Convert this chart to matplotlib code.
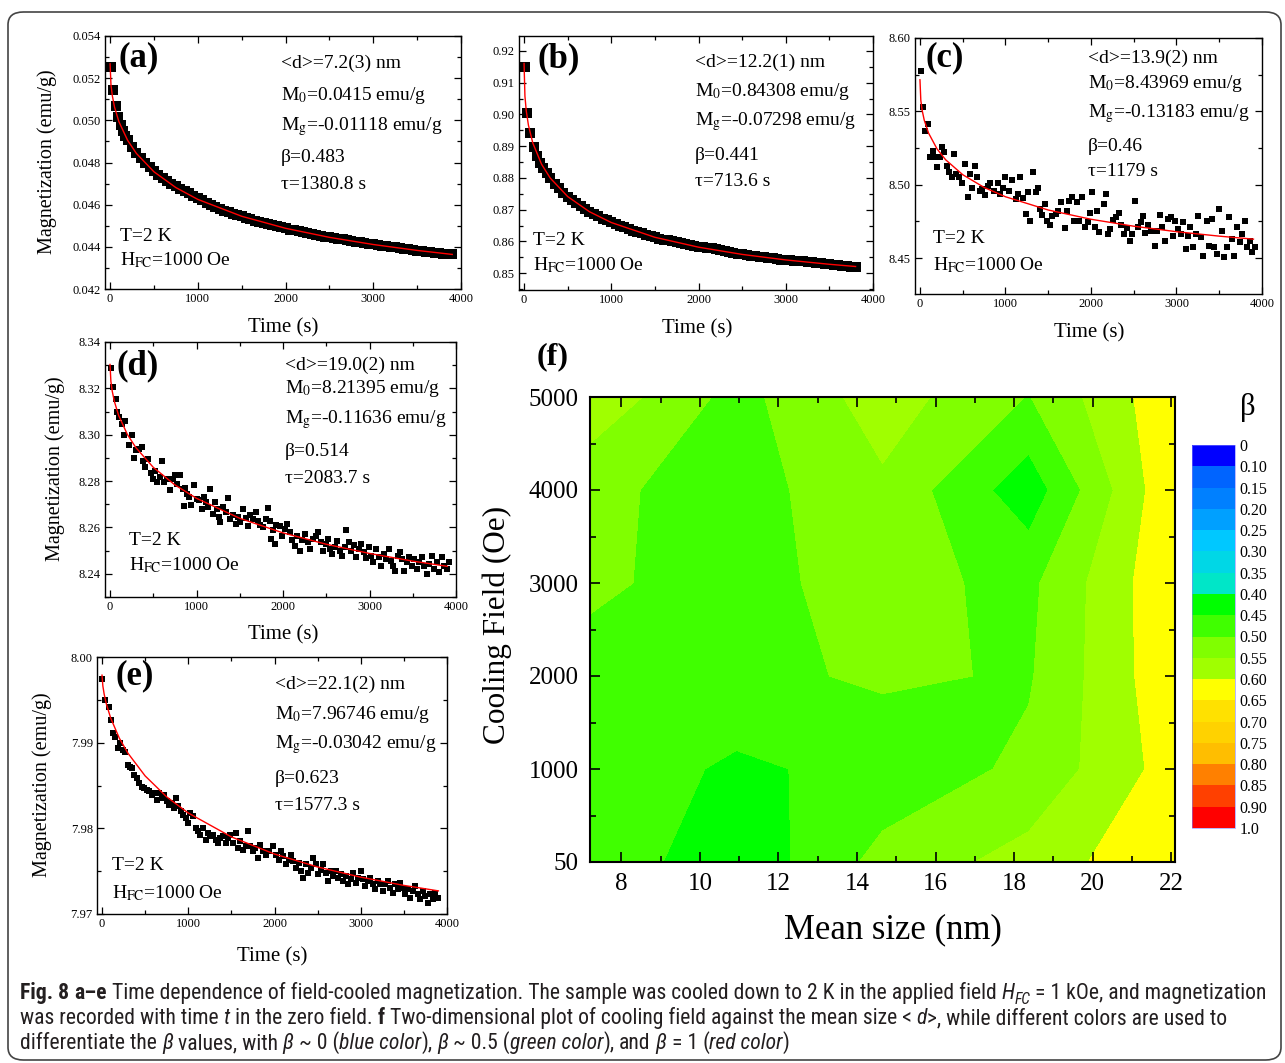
import numpy as np
import matplotlib
matplotlib.use("Agg")
from matplotlib import pyplot as plt
from matplotlib.colors import ListedColormap, BoundaryNorm
from matplotlib.patches import FancyBboxPatch
from matplotlib.ticker import MultipleLocator, FormatStrFormatter, FixedLocator

W, H = 1285, 1063

# ---------------- data ----------------
# fitted curves (time in s)
fit_time = [0, 10, 25, 50, 100, 200, 300, 500, 750, 1000, 1500, 2000, 2500, 3000, 3500, 3900]
fit_time_b = [0, 10, 25, 50, 100, 200, 300, 500, 750, 1000, 1500, 2000, 2500, 3000, 3500, 3800]
a_fit = [0.05268, 0.05169, 0.05118, 0.05064, 0.04994, 0.04905, 0.04843, 0.04756, 0.04681, 0.04625,
         0.04545, 0.04488, 0.04445, 0.04411, 0.04383, 0.04364]
b_fit = [0.91606, 0.90575, 0.90117, 0.89662, 0.89101, 0.88433, 0.87996, 0.87413, 0.86935, 0.86595,
         0.86130, 0.85819, 0.85591, 0.85417, 0.85280, 0.85210]
c_fit = [8.57152, 8.55761, 8.55092, 8.54405, 8.53529, 8.52442, 8.51706, 8.50688, 8.49821, 8.49185,
         8.48282, 8.47652, 8.47178, 8.46805, 8.46501, 8.46297]
d_fit = [8.33031, 8.32306, 8.31892, 8.31440, 8.30827, 8.30017, 8.29438, 8.28594, 8.27836, 8.27256,
         8.26395, 8.25766, 8.25276, 8.24879, 8.24548, 8.24323]
e_fit = [7.99788, 7.99661, 7.99567, 7.99453, 7.99289, 7.99054, 7.98878, 7.98612, 7.98367, 7.98179,
         7.97900, 7.97700, 7.97549, 7.97430, 7.97334, 7.97270]

# measured points (time, magnetization)
a_points = [(11, 0.05253), (38, 0.05143), (65, 0.05067), (95, 0.05016), (122, 0.04977), (150, 0.04950),
            (175, 0.04925), (200, 0.04905), (250, 0.04872), (300, 0.04845), (350, 0.04820), (400, 0.04800),
            (450, 0.04777), (500, 0.04760), (550, 0.04743), (600, 0.04728), (650, 0.04713), (700, 0.04700),
            (750, 0.04687), (800, 0.04675), (850, 0.04665), (900, 0.04655), (950, 0.04643), (1000, 0.04632),
            (1050, 0.04621), (1100, 0.04610), (1150, 0.04600), (1200, 0.04590), (1250, 0.04581),
            (1300, 0.04572), (1350, 0.04565), (1400, 0.04558), (1450, 0.04551), (1500, 0.04545),
            (1550, 0.04537), (1600, 0.04530), (1650, 0.04524), (1700, 0.04518), (1750, 0.04513),
            (1800, 0.04508), (1850, 0.04502), (1900, 0.04497), (1950, 0.04492), (2000, 0.04487),
            (2050, 0.04482), (2100, 0.04478), (2150, 0.04474), (2200, 0.04470), (2250, 0.04465),
            (2300, 0.04460), (2350, 0.04456), (2400, 0.04452), (2450, 0.04448), (2500, 0.04445),
            (2550, 0.04441), (2600, 0.04438), (2650, 0.04435), (2700, 0.04432), (2750, 0.04428),
            (2800, 0.04425), (2850, 0.04421), (2900, 0.04418), (2950, 0.04415), (3000, 0.04412),
            (3050, 0.04408), (3100, 0.04405), (3150, 0.04402), (3200, 0.04400), (3250, 0.04397),
            (3300, 0.04394), (3350, 0.04391), (3400, 0.04388), (3450, 0.04385), (3500, 0.04382),
            (3550, 0.04379), (3600, 0.04377), (3650, 0.04374), (3700, 0.04372), (3750, 0.04370),
            (3800, 0.04368), (3850, 0.04366), (3900, 0.04365)]
b_points = [(8, 0.9150), (39, 0.9003), (73, 0.8940), (111, 0.8898), (149, 0.8869), (180, 0.8846),
            (220, 0.8830), (260, 0.8815), (300, 0.8800), (350, 0.8782), (400, 0.8767), (450, 0.8753),
            (500, 0.8741), (550, 0.8730), (600, 0.8720), (650, 0.8711), (700, 0.8702), (750, 0.8694),
            (800, 0.8686), (850, 0.8679), (900, 0.8672), (950, 0.8666), (1000, 0.8660), (1050, 0.8654),
            (1100, 0.8649), (1150, 0.8644), (1200, 0.8639), (1250, 0.8634), (1300, 0.8630), (1350, 0.8625),
            (1400, 0.8621), (1450, 0.8617), (1500, 0.8613), (1550, 0.8609), (1600, 0.8606), (1650, 0.8603),
            (1700, 0.8600), (1750, 0.8597), (1800, 0.8594), (1850, 0.8591), (1900, 0.8588), (1950, 0.8586),
            (2000, 0.8583), (2050, 0.8582), (2100, 0.8580), (2150, 0.8578), (2200, 0.8576), (2250, 0.8573),
            (2300, 0.8570), (2350, 0.8567), (2400, 0.8564), (2450, 0.8561), (2500, 0.8559), (2550, 0.8557),
            (2600, 0.8555), (2650, 0.8553), (2700, 0.8552), (2750, 0.8550), (2800, 0.8549), (2850, 0.8547),
            (2900, 0.8545), (2950, 0.8543), (3000, 0.8542), (3050, 0.8540), (3100, 0.8539), (3150, 0.8538),
            (3200, 0.8537), (3250, 0.8535), (3300, 0.8534), (3350, 0.8532), (3400, 0.8531), (3450, 0.8529),
            (3500, 0.8528), (3550, 0.8527), (3600, 0.8526), (3650, 0.8524), (3700, 0.8523), (3750, 0.8521),
            (3800, 0.8520)]
c_points = [(8, 8.5772), (39, 8.5527), (59, 8.5368), (98, 8.5413), (118, 8.5190), (149, 8.5230), (176, 8.5190),
            (204, 8.5120), (235, 8.5190), (255, 8.5260), (282, 8.5220), (314, 8.5128), (341, 8.5087),
            (373, 8.5050), (400, 8.5210), (424, 8.5075), (459, 8.5050), (490, 8.5010), (529, 8.5144),
            (557, 8.4915), (588, 8.5075), (608, 8.4980), (647, 8.5126), (667, 8.5050), (698, 8.4960),
            (725, 8.4970), (765, 8.4930), (792, 8.4995), (824, 8.5010), (863, 8.4960), (910, 8.5010),
            (933, 8.4940), (973, 8.4980), (1000, 8.5050), (1039, 8.4960), (1078, 8.5030), (1118, 8.4900),
            (1145, 8.4940), (1169, 8.5050), (1200, 8.4911), (1235, 8.4800), (1267, 8.4950), (1286, 8.4750),
            (1325, 8.5087), (1353, 8.4950), (1380, 8.4980), (1404, 8.4836), (1431, 8.4797), (1459, 8.4870),
            (1490, 8.4756), (1522, 8.4724), (1549, 8.4790), (1588, 8.4800), (1616, 8.4824), (1647, 8.4880),
            (1698, 8.4705), (1725, 8.4824), (1745, 8.4890), (1773, 8.4918), (1804, 8.4756), (1835, 8.4880),
            (1863, 8.4756), (1894, 8.4915), (1929, 8.4710), (1961, 8.4744), (1992, 8.4806), (2012, 8.4950),
            (2047, 8.4710), (2071, 8.4824), (2098, 8.4676), (2149, 8.4870), (2176, 8.4938), (2196, 8.4664),
            (2227, 8.4699), (2255, 8.4760), (2294, 8.4778), (2322, 8.4810), (2353, 8.4728), (2384, 8.4664),
            (2416, 8.4705), (2451, 8.4619), (2478, 8.4664), (2518, 8.4890), (2549, 8.4710), (2580, 8.4744),
            (2608, 8.4790), (2635, 8.4670), (2667, 8.4728), (2706, 8.4687), (2745, 8.4584), (2776, 8.4687),
            (2808, 8.4797), (2831, 8.4710), (2863, 8.4619), (2902, 8.4767), (2933, 8.4778), (2961, 8.4653),
            (2988, 8.4756), (3020, 8.4699), (3051, 8.4664), (3078, 8.4744), (3106, 8.4562), (3129, 8.4653),
            (3161, 8.4710), (3196, 8.4573), (3224, 8.4664), (3255, 8.4790), (3286, 8.4642), (3314, 8.4516),
            (3353, 8.4756), (3380, 8.4584), (3412, 8.4767), (3443, 8.4573), (3471, 8.4527), (3498, 8.4836),
            (3529, 8.4687), (3561, 8.4509), (3588, 8.4573), (3616, 8.4778), (3647, 8.4630), (3678, 8.4516),
            (3706, 8.4710), (3737, 8.4607), (3765, 8.4664), (3796, 8.4756), (3824, 8.4573), (3855, 8.4619),
            (3882, 8.4539), (3914, 8.4578)]
d_points = [(8, 8.3290), (38, 8.3207), (65, 8.3156), (85, 8.3099), (108, 8.3077), (135, 8.3048), (162, 8.2998),
            (173, 8.3058), (223, 8.2957), (250, 8.2998), (277, 8.2900), (300, 8.2933), (338, 8.2940),
            (365, 8.2947), (377, 8.2885), (404, 8.2861), (442, 8.2894), (469, 8.2836), (500, 8.2810),
            (519, 8.2842), (546, 8.2796), (577, 8.2818), (600, 8.2885), (627, 8.2796), (654, 8.2810),
            (692, 8.2760), (723, 8.2810), (750, 8.2825), (777, 8.2789), (808, 8.2825), (838, 8.2767),
            (854, 8.2692), (865, 8.2770), (892, 8.2745), (915, 8.2731), (942, 8.2695), (969, 8.2781),
            (1000, 8.2724), (1023, 8.2717), (1058, 8.2681), (1085, 8.2731), (1108, 8.2709), (1138, 8.2688),
            (1154, 8.2767), (1185, 8.2659), (1212, 8.2709), (1238, 8.2681), (1262, 8.2645), (1277, 8.2623),
            (1308, 8.2688), (1338, 8.2666), (1365, 8.2727), (1392, 8.2637), (1423, 8.2652), (1454, 8.2616),
            (1481, 8.2645), (1508, 8.2623), (1538, 8.2681), (1569, 8.2640), (1596, 8.2608), (1623, 8.2652),
            (1654, 8.2637), (1685, 8.2666), (1712, 8.2626), (1738, 8.2611), (1769, 8.2601), (1800, 8.2637),
            (1827, 8.2683), (1846, 8.2630), (1865, 8.2551), (1885, 8.2587), (1904, 8.2529), (1923, 8.2609),
            (1962, 8.2606), (1992, 8.2565), (2019, 8.2594), (2046, 8.2616), (2077, 8.2580), (2108, 8.2548),
            (2135, 8.2522), (2162, 8.2565), (2192, 8.2500), (2223, 8.2548), (2250, 8.2572), (2288, 8.2536),
            (2315, 8.2508), (2346, 8.2551), (2377, 8.2565), (2408, 8.2580), (2435, 8.2536), (2461, 8.2500),
            (2492, 8.2529), (2519, 8.2551), (2546, 8.2508), (2569, 8.2486), (2596, 8.2515), (2623, 8.2540),
            (2654, 8.2500), (2685, 8.2479), (2711, 8.2515), (2731, 8.2587), (2762, 8.2536), (2788, 8.2500),
            (2815, 8.2525), (2846, 8.2471), (2877, 8.2508), (2904, 8.2529), (2931, 8.2493), (2962, 8.2467),
            (2992, 8.2515), (3019, 8.2479), (3046, 8.2450), (3077, 8.2508), (3108, 8.2471), (3135, 8.2435),
            (3162, 8.2486), (3192, 8.2464), (3223, 8.2508), (3250, 8.2457), (3277, 8.2435), (3300, 8.2414),
            (3327, 8.2479), (3354, 8.2496), (3377, 8.2464), (3404, 8.2414), (3431, 8.2450), (3462, 8.2471),
            (3492, 8.2435), (3519, 8.2464), (3546, 8.2421), (3577, 8.2450), (3608, 8.2471), (3635, 8.2435),
            (3662, 8.2399), (3692, 8.2443), (3723, 8.2479), (3750, 8.2421), (3777, 8.2450), (3808, 8.2407),
            (3838, 8.2471), (3865, 8.2435), (3896, 8.2421), (3923, 8.2453)]
e_points = [(5, 7.99748), (38, 7.99496), (77, 7.99419), (104, 7.99264), (127, 7.99108), (154, 7.99070),
            (181, 7.98934), (204, 7.98992), (243, 7.98915), (269, 7.98895), (296, 7.98740), (319, 7.98721),
            (346, 7.98701), (373, 7.98624), (404, 7.98586), (434, 7.98528), (461, 7.98488), (488, 7.98470),
            (519, 7.98450), (550, 7.98430), (576, 7.98392), (603, 7.98410), (634, 7.98333), (665, 7.98410),
            (692, 7.98351), (719, 7.98392), (749, 7.98314), (780, 7.98275), (807, 7.98294), (834, 7.98236),
            (857, 7.98351), (884, 7.98256), (911, 7.98205), (942, 7.98159), (972, 7.98120), (999, 7.98062),
            (1026, 7.98178), (1057, 7.98140), (1087, 7.98004), (1114, 7.97965), (1141, 7.97926), (1172, 7.98004),
            (1203, 7.97869), (1230, 7.97946), (1257, 7.97907), (1287, 7.97926), (1318, 7.97869), (1345, 7.97830),
            (1372, 7.97888), (1403, 7.97907), (1433, 7.97830), (1460, 7.97888), (1487, 7.97926), (1518, 7.97830),
            (1549, 7.97946), (1575, 7.97771), (1602, 7.97849), (1633, 7.97752), (1664, 7.97791), (1691, 7.97965),
            (1718, 7.97791), (1748, 7.97733), (1779, 7.97771), (1806, 7.97655), (1833, 7.97810), (1864, 7.97733),
            (1902, 7.97694), (1940, 7.97733), (1979, 7.97791), (2017, 7.97694), (2048, 7.97636), (2075, 7.97733),
            (2102, 7.97675), (2133, 7.97578), (2163, 7.97636), (2190, 7.97694), (2217, 7.97616), (2248, 7.97538),
            (2279, 7.97597), (2306, 7.97500), (2333, 7.97422), (2363, 7.97578), (2394, 7.97481), (2421, 7.97538),
            (2448, 7.97655), (2479, 7.97578), (2509, 7.97462), (2536, 7.97519), (2563, 7.97578), (2594, 7.97481),
            (2625, 7.97384), (2652, 7.97500), (2679, 7.97442), (2709, 7.97500), (2740, 7.97422), (2767, 7.97462),
            (2794, 7.97384), (2825, 7.97442), (2855, 7.97345), (2882, 7.97403), (2909, 7.97481), (2940, 7.97364),
            (2971, 7.97422), (2998, 7.97500), (3025, 7.97403), (3055, 7.97326), (3086, 7.97384), (3113, 7.97422),
            (3140, 7.97345), (3171, 7.97287), (3201, 7.97384), (3228, 7.97345), (3255, 7.97267), (3286, 7.97345),
            (3317, 7.97384), (3344, 7.97306), (3370, 7.97248), (3401, 7.97345), (3432, 7.97287), (3459, 7.97364),
            (3486, 7.97306), (3517, 7.97229), (3547, 7.97287), (3574, 7.97190), (3601, 7.97267), (3632, 7.97326),
            (3663, 7.97229), (3690, 7.97171), (3716, 7.97267), (3747, 7.97209), (3778, 7.97132), (3805, 7.97229),
            (3832, 7.97171), (3863, 7.97248), (3893, 7.97190)]

a_notes = ["<d>=7.2(3) nm", "M$_0$=0.0415 emu/g", "M$_{\\rm g}$=-0.01118 emu/g", "β=0.483", "τ=1380.8 s"]
b_notes = ["<d>=12.2(1) nm", "M$_0$=0.84308 emu/g", "M$_{\\rm g}$=-0.07298 emu/g", "β=0.441", "τ=713.6 s"]
c_notes = ["<d>=13.9(2) nm", "M$_0$=8.43969 emu/g", "M$_{\\rm g}$=-0.13183 emu/g", "β=0.46", "τ=1179 s"]
d_notes = ["<d>=19.0(2) nm", "M$_0$=8.21395 emu/g", "M$_{\\rm g}$=-0.11636 emu/g", "β=0.514", "τ=2083.7 s"]
e_notes = ["<d>=22.1(2) nm", "M$_0$=7.96746 emu/g", "M$_{\\rm g}$=-0.03042 emu/g", "β=0.623", "τ=1577.3 s"]

# contour map (f): beta on a size x cooling-field grid
mean_size = [7.2, 10.925, 14.65, 18.375, 22.1]
cooling_field = [50, 1000, 2000, 3000, 4000, 5000]
beta_map = [
    [0.490, 0.410, 0.517, 0.569, 0.645],   # 50 Oe
    [0.483, 0.441, 0.466, 0.511, 0.623],   # 1000 Oe
    [0.490, 0.486, 0.508, 0.495, 0.640],   # 2000 Oe
    [0.505, 0.488, 0.515, 0.488, 0.645],   # 3000 Oe
    [0.512, 0.477, 0.540, 0.420, 0.645],   # 4000 Oe
    [0.588, 0.482, 0.575, 0.498, 0.640],   # 5000 Oe
]
beta_levels = [0, 0.10, 0.15, 0.20, 0.25, 0.30, 0.35, 0.40, 0.45, 0.50, 0.55, 0.60,
               0.65, 0.70, 0.75, 0.80, 0.85, 0.90, 1.0]
beta_labels = ["0", "0.10", "0.15", "0.20", "0.25", "0.30", "0.35", "0.40", "0.45", "0.50", "0.55",
               "0.60", "0.65", "0.70", "0.75", "0.80", "0.85", "0.90", "1.0"]
beta_colors = ["#0000ff", "#0064ff", "#0080ff", "#00a0ff", "#00c8ff", "#00d7e6", "#00e6c8",
               "#00ff00", "#40ff00", "#80ff00", "#a0ff00", "#ffff00", "#ffe100", "#ffd200",
               "#ffbe00", "#ff8000", "#ff4000", "#ff0000"]

# ---------------- style ----------------
plt.rcParams['font.family'] = ['Liberation Serif', 'DejaVu Serif']
plt.rcParams['mathtext.fontset'] = 'stix'
plt.rcParams['xtick.direction'] = 'in'
plt.rcParams['ytick.direction'] = 'in'
plt.rcParams['xtick.top'] = True
plt.rcParams['ytick.right'] = True

fig = plt.figure(figsize=(W / 100, H / 100), dpi=100)


def rect(l, r, t, b):
    return [l / W, 1 - b / H, (r - l) / W, (b - t) / H]


panels = [
    dict(tag="(a)", pts=a_points, ft=fit_time, fm=a_fit, box=(105, 461, 36, 289), ylim=(0.042, 0.054),
         ymaj=0.002, fmt="%.3f", notes=a_notes, nx=0.494, ny=[0.892, 0.766, 0.643, 0.521, 0.413],
         tagpos=(0.037, 0.912), tx=0.042, ty=[0.208, 0.114], xl=(283, 328), yl=(47, 162), ms=6.5),
    dict(tag="(b)", pts=b_points, ft=fit_time_b, fm=b_fit, box=(519, 873, 36, 290), ylim=(0.8447, 0.9247),
         ymaj=0.01, fmt="%.2f", notes=b_notes, nx=0.497, ny=[0.896, 0.782, 0.664, 0.530, 0.427],
         tagpos=(0.051, 0.912), tx=0.04, ty=[0.196, 0.098], xl=(697, 329), yl=None, ms=6.5),
    dict(tag="(c)", pts=c_points, ft=fit_time, fm=c_fit, box=(915, 1262, 38, 294), ylim=(8.4256, 8.60),
         ymaj=0.05, fmt="%.2f", notes=c_notes, nx=0.499, ny=[0.919, 0.821, 0.704, 0.575, 0.477],
         tagpos=(0.029, 0.923), tx=0.052, ty=[0.215, 0.113], xl=(1089, 333), yl=None, ms=5),
    dict(tag="(d)", pts=d_points, ft=fit_time, fm=d_fit, box=(105, 456, 342, 597), ylim=(8.23, 8.34),
         ymaj=0.02, fmt="%.2f", notes=d_notes, nx=0.513, ny=[0.910, 0.816, 0.694, 0.569, 0.463],
         tagpos=(0.034, 0.906), tx=0.068, ty=[0.220, 0.125], xl=(283, 635), yl=(55, 469), ms=5),
    dict(tag="(e)", pts=e_points, ft=fit_time, fm=e_fit, box=(97, 447, 657, 914), ylim=(7.97, 8.00),
         ymaj=0.01, fmt="%.2f", notes=e_notes, nx=0.509, ny=[0.895, 0.778, 0.658, 0.529, 0.424],
         tagpos=(0.054, 0.926), tx=0.043, ty=[0.187, 0.082], xl=(272, 957), yl=(42, 785), ms=5),
]

for p in panels:
    ax = fig.add_axes(rect(*p["box"]))
    t, m = np.array(p["pts"]).T
    ax.plot(t, m, 's', color='black', ms=p["ms"], mew=0, zorder=2)
    ax.plot(p["ft"], p["fm"], '-', color='red', lw=1.0, zorder=3)
    ax.set_xlim(-58, 4000)
    ax.set_ylim(*p["ylim"])
    ax.xaxis.set_major_locator(MultipleLocator(1000))
    ax.xaxis.set_minor_locator(MultipleLocator(500))
    ax.yaxis.set_major_locator(MultipleLocator(p["ymaj"]))
    ax.yaxis.set_minor_locator(MultipleLocator(p["ymaj"] / 2))
    ax.yaxis.set_major_formatter(FormatStrFormatter(p["fmt"]))
    ax.tick_params(which='both', labelsize=9, width=0.9, pad=3)
    ax.tick_params(which='major', length=5)
    ax.tick_params(which='minor', length=3)
    for s in ax.spines.values():
        s.set_linewidth(1.0)
    ax.text(p["tagpos"][0], p["tagpos"][1], p["tag"], transform=ax.transAxes, fontsize=25,
            fontweight='bold', va='center', ha='left')
    for s, yy in zip(p["notes"], p["ny"]):
        ax.text(p["nx"], yy, s, transform=ax.transAxes, fontsize=14, va='center', ha='left')
    ax.text(p["tx"], p["ty"][0], "T=2 K", transform=ax.transAxes, fontsize=14, va='center', ha='left')
    ax.text(p["tx"], p["ty"][1], "H$_{\\rm FC}$=1000 Oe", transform=ax.transAxes, fontsize=14,
            va='center', ha='left')
    fig.text(p["xl"][0] / W, 1 - p["xl"][1] / H, "Time (s)", fontsize=15, ha='center', va='center')
    if p["yl"] is not None:
        fig.text(p["yl"][0] / W, 1 - p["yl"][1] / H, "Magnetization (emu/g)", fontsize=14.5,
                 ha='center', va='center', rotation=90)

# ---------------- panel f ----------------
axf = fig.add_axes(rect(590, 1175, 397, 862))
cmap = ListedColormap(beta_colors)
norm = BoundaryNorm(beta_levels, cmap.N)
rows = np.arange(len(cooling_field))
cs = axf.contourf(mean_size, rows, np.array(beta_map), levels=beta_levels, cmap=cmap, norm=norm)
axf.set_xlim(7.2, 22.1)
axf.set_ylim(rows[0], rows[-1])
axf.xaxis.set_major_locator(MultipleLocator(2))
axf.xaxis.set_minor_locator(MultipleLocator(1))
axf.yaxis.set_major_locator(FixedLocator(rows))
axf.yaxis.set_minor_locator(FixedLocator(rows[:-1] + 0.5))
axf.set_yticklabels([str(v) for v in cooling_field])
axf.tick_params(which='both', labelsize=18, width=1.2)
axf.tick_params(which='major', length=7, pad=8)
axf.tick_params(which='minor', length=4)
for s in axf.spines.values():
    s.set_linewidth(1.5)
fig.text(893 / W, 1 - 930 / H, "Mean size (nm)", fontsize=25, ha='center', va='center')
fig.text(497 / W, 1 - 625 / H, "Cooling Field (Oe)", fontsize=22.5, ha='center', va='center', rotation=90)
fig.text(537 / W, 1 - 357 / H, "(f)", fontsize=23, fontweight='bold', ha='left', va='center')

cax = fig.add_axes(rect(1192, 1235, 445, 828))
cb = fig.colorbar(cs, cax=cax, ticks=beta_levels)
cb.ax.set_yticklabels(beta_labels)
cb.ax.invert_yaxis()
cb.ax.tick_params(length=0, labelsize=11.5, pad=3, right=True, left=False)
cb.ax.minorticks_off()
cb.outline.set_linewidth(0.4)
cb.outline.set_edgecolor('#8080ff')
fig.text(1248 / W, 1 - 408 / H, "β", fontsize=22, ha='center', va='center')

# ---------------- caption ----------------
cap_font = ['Roboto Condensed', 'Liberation Sans Narrow', 'Open Sans Condensed', 'Roboto', 'DejaVu Sans']
cap_base = [999, 1024, 1049]
cap_lines = [
    [("Fig. 8", "b"), (" a–e", "b"),
     (" Time dependence of field-cooled magnetization. The sample was cooled down to 2 K in the applied field", "n"),
     (" H", "i"), ("FC", "s"), (" = 1 kOe, and magnetization", "n")],
    [("was recorded with time", "n"), (" t", "i"), (" in the zero field.", "n"), (" f", "b"),
     (" Two-dimensional plot of cooling field against the mean size <", "n"), (" d", "i"),
     (">, while different colors are used to", "n")],
    [("differentiate the", "n"), (" β", "i"), (" values, with", "n"), (" β", "i"), (" ~ 0 (", "n"),
     ("blue color", "i"), ("),", "n"), (" β", "i"), (" ~ 0.5 (", "n"), ("green color", "i"), ("),", "n"),
     (" and", "n"), (" β", "i"), (" = 1 (", "n"), ("red color", "i"), (")", "n")],
]


def draw_caption(size):
    r = fig.canvas.get_renderer()
    p1 = fig.text(0, 0, "x x", family=cap_font, size=size)
    p2 = fig.text(0, 0, "xx", family=cap_font, size=size)
    space = p1.get_window_extent(r).width - p2.get_window_extent(r).width
    p1.remove()
    p2.remove()
    made, widths = [], []
    for y, runs in zip(cap_base, cap_lines):
        x = 20.0
        for s, st in runs:
            if s.startswith(" "):
                x += space
                s = s[1:]
            kw = dict(family=cap_font, size=size, va='baseline', ha='left', color='#231f20')
            yy = y
            if st == "b":
                kw['weight'] = 'bold'
            elif st == "i":
                kw['style'] = 'italic'
            elif st == "s":
                kw['style'] = 'italic'
                kw['size'] = size * 0.72
                yy = y + size * 0.35
            txt = fig.text(x / W, 1 - yy / H, s, **kw)
            made.append(txt)
            x += txt.get_window_extent(r).width
        widths.append(x - 20)
    return made, widths


made, widths = draw_caption(12)
for txt in made:
    txt.remove()
draw_caption(12 * 1248 / widths[0])

frame = FancyBboxPatch((8 / W, 1 - 1060 / H), (1281 - 8) / W, (1060 - 12) / H,
                       boxstyle="round,pad=0,rounding_size=0.012", transform=fig.transFigure,
                       fill=False, edgecolor='#444444', lw=1.2)
fig.add_artist(frame)

fig.savefig("out.png", dpi=100)
